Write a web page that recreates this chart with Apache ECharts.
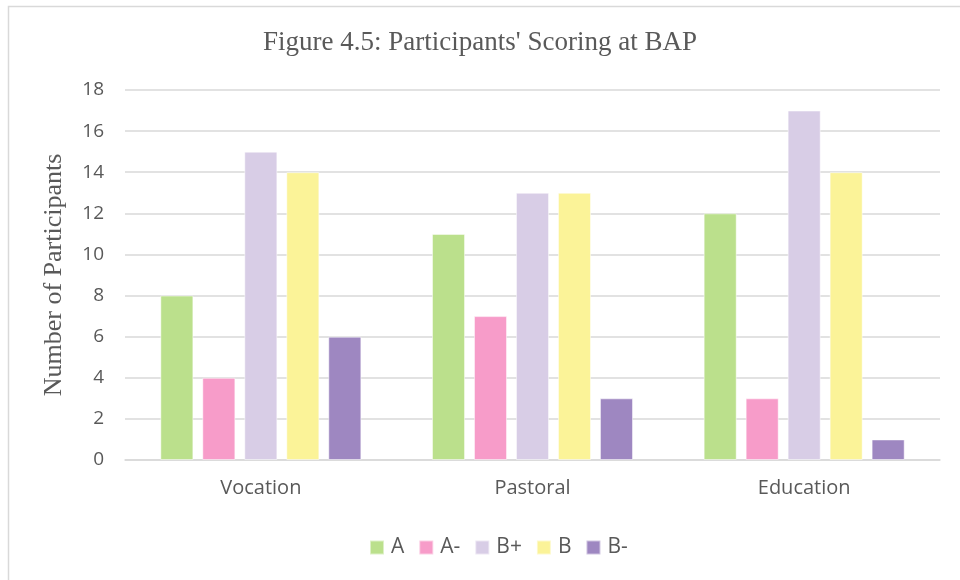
<!DOCTYPE html>
<html>
<head>
<meta charset="utf-8">
<script src="https://cdn.jsdelivr.net/npm/echarts@6/dist/echarts.min.js"></script>
<style>html,body{margin:0;padding:0;background:#fff}#c{width:960px;height:580px}</style>
</head>
<body>
<div id="c"></div>
<script>
const categories = ['Vocation', 'Pastoral', 'Education'];
const seriesNames = ['A', 'A-', 'B+', 'B', 'B-'];
const valuesA = [8, 11, 12];
const valuesAminus = [4, 7, 3];
const valuesBplus = [15, 13, 17];
const valuesB = [14, 13, 14];
const valuesBminus = [6, 3, 1];
const yTicks = [0, 2, 4, 6, 8, 10, 12, 14, 16, 18];

const colors = ['#bbe08c', '#f79cc9', '#d8cde6', '#fbf398', '#9e87c1'];
const allValues = [valuesA, valuesAminus, valuesBplus, valuesB, valuesBminus];

const chart = echarts.init(document.getElementById('c'), null, {renderer: 'canvas'});
chart.setOption({
  animation: false,
  backgroundColor: '#fff',
  graphic: [{
    type: 'rect', shape: {x: 8.5, y: 6.5, width: 960, height: 600},
    style: {fill: 'none', stroke: '#d9d9d9', lineWidth: 1.5}, silent: true
  }],
  title: {
    text: "Figure 4.5: Participants' Scoring at BAP",
    left: 'center', top: 24,
    textStyle: {fontFamily: 'Liberation Serif', fontWeight: 'normal', fontSize: 27, color: '#595959'}
  },
  legend: {
    top: 532, left: 364,
    itemWidth: 14, itemHeight: 14, itemGap: 14,
    icon: 'rect',
    textStyle: {fontFamily: 'Open Sans', fontSize: 21, color: '#595959', padding: [0, 0, 0, 2]},
    data: seriesNames
  },
  grid: {left: 125, right: 20, top: 90, bottom: 120},
  xAxis: {
    type: 'category', data: categories,
    axisLine: {lineStyle: {color: '#d9d9d9', width: 1.5}},
    axisTick: {show: false},
    axisLabel: {fontFamily: 'Open Sans', fontSize: 20, color: '#595959', margin: 18}
  },
  yAxis: {
    type: 'value', min: 0, max: 18, interval: 2,
    name: 'Number of Participants', nameLocation: 'middle', nameGap: 58,
    nameTextStyle: {fontFamily: 'Liberation Serif', fontSize: 26, color: '#595959'},
    axisLine: {show: false}, axisTick: {show: false},
    axisLabel: {fontFamily: 'Open Sans', fontSize: 19, color: '#595959', margin: 21,
      formatter: v => yTicks.includes(v) ? String(v) : ''},
    splitLine: {lineStyle: {color: '#d9d9d9', width: 1.5}}
  },
  series: seriesNames.map((n, i) => ({
    name: n, type: 'bar', data: allValues[i],
    barGap: '27%', barCategoryGap: '26%',
    itemStyle: {color: colors[i], borderColor: 'rgba(255,255,255,0.5)', borderWidth: 1}
  }))
});
</script>
</body>
</html>
